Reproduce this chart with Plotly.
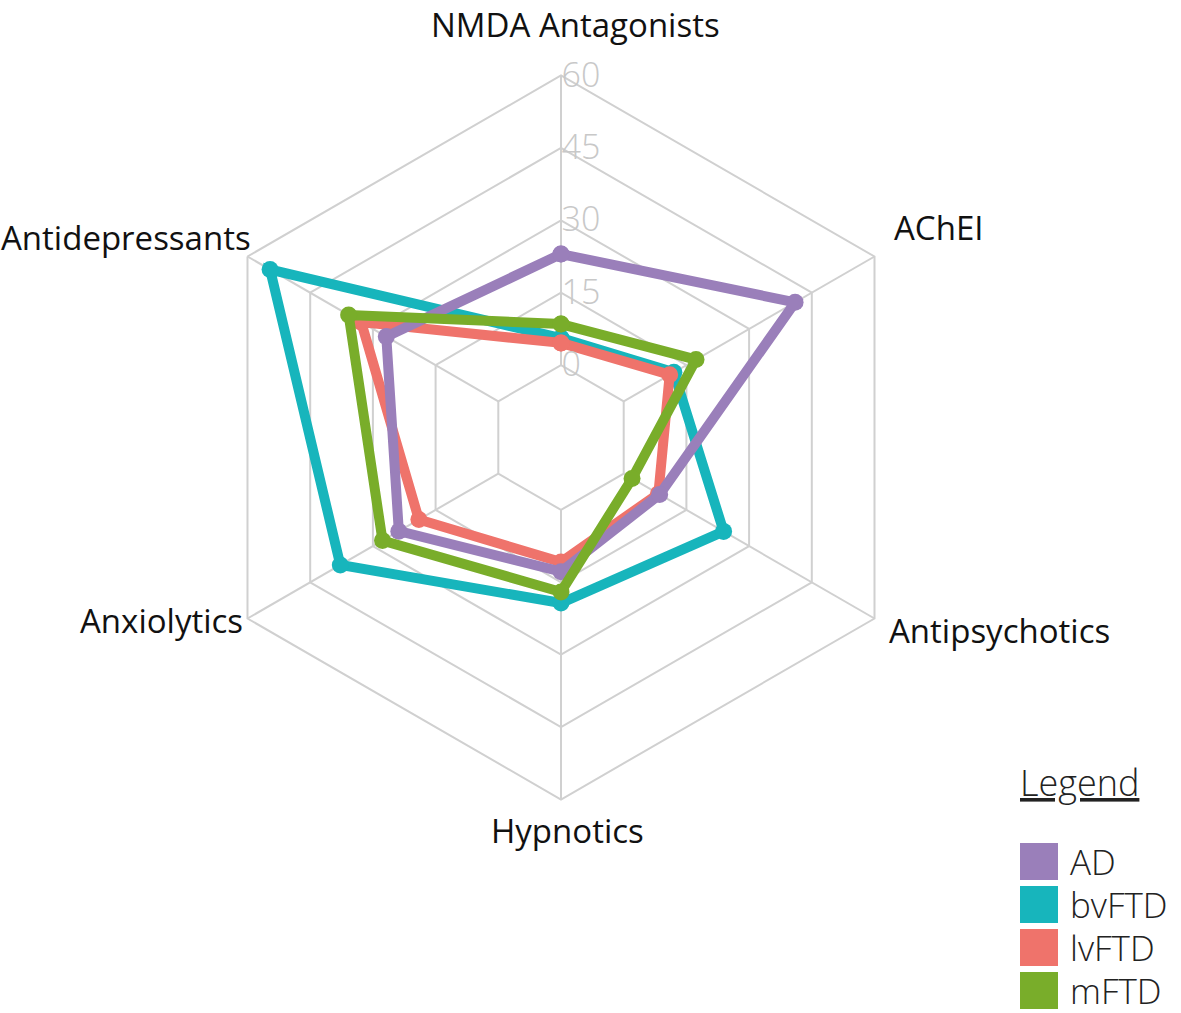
import plotly.graph_objects as go

# drug classes around the radar, clockwise from the top
categories = ["NMDA Antagonists", "AChEI", "Antipsychotics", "Hypnotics", "Anxiolytics", "Antidepressants"]

# percent of patients per group
ad = [23, 41, 8.6, 12.8, 23.8, 26.8]
bvftd = [5.6, 12, 23.9, 19.3, 37.8, 54.6]
lvftd = [4.6, 11, 8.3, 10.8, 19, 32.8]
mftd = [8.5, 17.3, 2, 17, 27.7, 35.8]

groups = ["AD", "bvFTD", "lvFTD", "mFTD"]
colors = {"AD": "#9a7fba", "bvFTD": "#17b5bc", "lvFTD": "#ef736b", "mFTD": "#79ad2a"}
values = {"AD": ad, "bvFTD": bvftd, "lvFTD": lvftd, "mFTD": mftd}

radial_ticks = [0, 15, 30, 45, 60]

W, H = 1181, 1013


def px(x):
    return x / W


def py(y):
    return 1 - y / H


fig = go.Figure()

# drawing order so that mFTD ends up on top
for g in ["bvFTD", "lvFTD", "AD", "mFTD"]:
    r = values[g] + values[g][:1]
    th = categories + categories[:1]
    fig.add_trace(go.Scatterpolar(
        r=r, theta=th, mode="lines+markers", name=g,
        line=dict(color=colors[g], width=10),
        marker=dict(color=colors[g], size=17),
        showlegend=False,
    ))

grid = "#d0d0d0"
fig.update_layout(
    width=W, height=H,
    margin=dict(l=0, r=0, t=0, b=0),
    paper_bgcolor="white",
    plot_bgcolor="white",
    font=dict(family="Open Sans", color="#111"),
    polar=dict(
        domain=dict(x=[px(199), px(923)], y=[py(800), py(75)]),
        bgcolor="white",
        hole=0.2,
        gridshape="linear",
        radialaxis=dict(
            range=[0, 60], tickvals=radial_ticks, angle=90, tickangle=90,
            showline=False, gridcolor=grid, gridwidth=2, ticks="",
            tickfont=dict(size=34, color="#c8c8c8", family="Open Sans", weight=300),
        ),
        angularaxis=dict(
            rotation=90, direction="clockwise",
            gridcolor=grid, gridwidth=2, linecolor=grid, linewidth=2,
            showticklabels=False, ticks="",
        ),
    ),
)

# category labels placed around the hexagon
label_pos = {
    "NMDA Antagonists": (575, 24, "center"),
    "AChEI": (892, 228, "left"),
    "Antipsychotics": (887, 630, "left"),
    "Hypnotics": (567, 830, "center"),
    "Anxiolytics": (245, 620, "right"),
    "Antidepressants": (253, 237, "right"),
}
for c in categories:
    x, y, anc = label_pos[c]
    fig.add_annotation(x=px(x), y=py(y), xref="paper", yref="paper",
                       text=c, showarrow=False, xanchor=anc, yanchor="middle",
                       font=dict(size=33, color="#111"))

# legend drawn as swatches and text
fig.add_annotation(x=px(1018), y=py(782), xref="paper", yref="paper",
                   text="<u>Legend</u>", showarrow=False, xanchor="left", yanchor="middle",
                   font=dict(size=36, color="#222", weight=300))
for i, g in enumerate(groups):
    y0 = 843 + i * 43
    fig.add_shape(type="rect", xref="paper", yref="paper",
                  x0=px(1020), x1=px(1058), y0=py(y0 + 37), y1=py(y0),
                  fillcolor=colors[g], line=dict(width=0))
    fig.add_annotation(x=px(1068), y=py(y0 + 18), xref="paper", yref="paper",
                       text=g, showarrow=False, xanchor="left", yanchor="middle",
                       font=dict(size=35, color="#222", weight=300))

# drop the default page margin so the figure sits at the window corner
fig.write_html("out.html", config={"displayModeBar": False},
               post_script="document.body.style.margin='0';")
